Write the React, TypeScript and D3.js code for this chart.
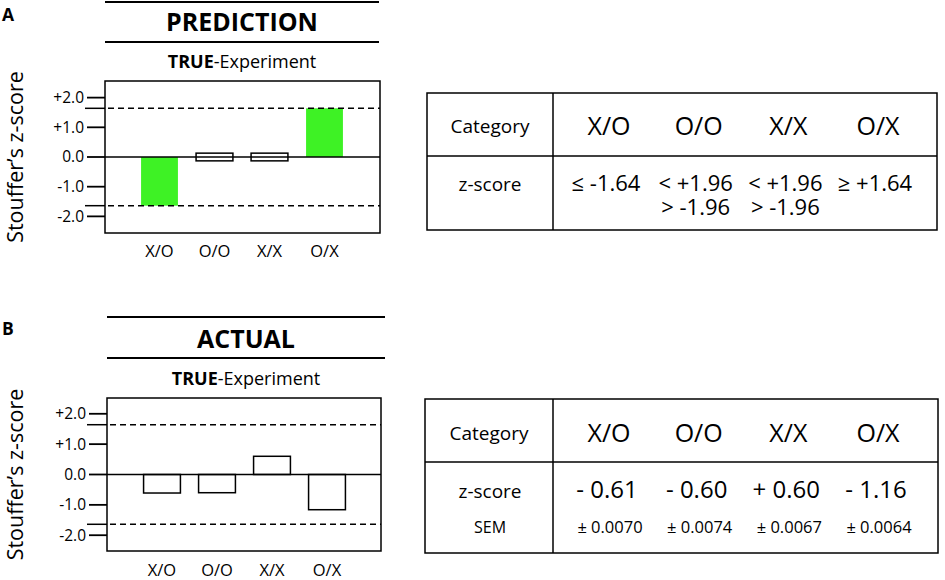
import React from "react";
import * as d3 from "d3";

const categories = ["X/O", "O/O", "X/X", "O/X"];
const predLow = [-1.64, -0.13, -0.13, 0];
const predHigh = [0, 0.13, 0.13, 1.64];
const predFilled = [true, false, false, true];
const actualZ = [-0.61, -0.6, 0.6, -1.16];
const actualSEM = [0.007, 0.0074, 0.0067, 0.0064];
const thresholds = [-1.64, 1.64];
const yTicks = [2, 1, 0, -1, -2];
const predictionRanges = [["≤ -1.64"], ["< +1.96", "> -1.96"], ["< +1.96", "> -1.96"], ["≥ +1.64"]];

const FONT = "'Open Sans', sans-serif";
const GREEN = "#3ef225";

const fmtTick = (v: number) => (v > 0 ? "+" : "") + v.toFixed(1);
const fmtZ = (v: number) => (v < 0 ? "- " : "+ ") + Math.abs(v).toFixed(2);
const fmtSEM = (v: number) => "± " + v.toFixed(4);

type PanelProps = {
  letter: string;
  title: string;
  top: number;
  ruleX: [number, number];
  box: { x0: number; x1: number; y0: number; y1: number };
  yDomain: [number, number];
  bandRange: [number, number];
  lows: number[];
  highs: number[];
  filled: boolean[];
  titleY: number;
  rule2Y: number;
  subY: number;
  labelY: number;
  letterY: number;
};

function Panel(p: PanelProps) {
  const { box } = p;
  const y = d3.scaleLinear().domain(p.yDomain).range([box.y1, box.y0]);
  const x = d3
    .scaleBand<string>()
    .domain(categories)
    .range(p.bandRange)
    .paddingInner(0.33)
    .paddingOuter(0.165);
  const midX = (p.ruleX[0] + p.ruleX[1]) / 2;
  const midY = (box.y0 + box.y1) / 2;
  return (
    <g>
      <text x={2} y={p.letterY} fontFamily={FONT} fontWeight={700} fontSize={17.5}>
        {p.letter}
      </text>
      <line x1={p.ruleX[0]} x2={p.ruleX[1]} y1={p.top} y2={p.top} stroke="#000" strokeWidth={2} />
      <text x={midX} y={p.titleY} textAnchor="middle" fontFamily={FONT} fontWeight={700} fontSize={25}>
        {p.title}
      </text>
      <line x1={p.ruleX[0]} x2={p.ruleX[1]} y1={p.rule2Y} y2={p.rule2Y} stroke="#000" strokeWidth={2} />
      <text x={midX} y={p.subY} textAnchor="middle" fontFamily={FONT} fontSize={18}>
        <tspan fontWeight={700}>TRUE</tspan>
        <tspan>-Experiment</tspan>
      </text>
      <text
        transform={`translate(23,${midY}) rotate(-90)`}
        textAnchor="middle"
        fontFamily={FONT}
        fontSize={21.5}
      >
        Stouffer’s z-score
      </text>
      {categories.map((c, i) => {
        const yt = y(p.highs[i]);
        const yb = y(p.lows[i]);
        return (
          <rect
            key={c}
            x={x(c)}
            y={yt}
            width={x.bandwidth()}
            height={yb - yt}
            fill={p.filled[i] ? GREEN : "#fff"}
            stroke={p.filled[i] ? "none" : "#000"}
            strokeWidth={1.5}
          />
        );
      })}
      <line x1={box.x0} x2={box.x1} y1={y(0)} y2={y(0)} stroke="#000" strokeWidth={1.5} />
      {thresholds.map((t) => (
        <g key={t}>
          <line x1={box.x0 + 3} x2={box.x1} y1={y(t)} y2={y(t)} stroke="#000" strokeWidth={1.5} strokeDasharray="6,4" />
          <line x1={box.x0 - 20} x2={box.x0} y1={y(t)} y2={y(t)} stroke="#000" strokeWidth={1.5} />
        </g>
      ))}
      {yTicks.map((t) => (
        <g key={t}>
          <line x1={box.x0 - 18} x2={box.x0} y1={y(t)} y2={y(t)} stroke="#000" strokeWidth={1.8} />
          <text x={box.x0 - 21} y={y(t)} dy="0.35em" textAnchor="end" fontFamily={FONT} fontSize={15.5}>
            {fmtTick(t)}
          </text>
        </g>
      ))}
      <rect x={box.x0} y={box.y0} width={box.x1 - box.x0} height={box.y1 - box.y0} fill="none" stroke="#000" strokeWidth={1.5} />
      {categories.map((c) => (
        <text key={c} x={(x(c) as number) + x.bandwidth() / 2} y={p.labelY} textAnchor="middle" fontFamily={FONT} fontSize={16.5}>
          {c}
        </text>
      ))}
    </g>
  );
}

type TableProps = {
  box: { x0: number; x1: number; y0: number; y1: number };
  colX: number;
  rowY: number;
  headerY: number;
  colRange: [number, number];
  children: (xs: (c: string) => number) => React.ReactNode;
};

function Table(t: TableProps) {
  const xs = d3.scalePoint<string>().domain(categories).range(t.colRange);
  const labelX = (t.box.x0 + t.colX) / 2;
  return (
    <g>
      <rect x={t.box.x0} y={t.box.y0} width={t.box.x1 - t.box.x0} height={t.box.y1 - t.box.y0} fill="none" stroke="#000" strokeWidth={1.5} />
      <line x1={t.colX} x2={t.colX} y1={t.box.y0} y2={t.box.y1} stroke="#000" strokeWidth={1.5} />
      <line x1={t.box.x0} x2={t.box.x1} y1={t.rowY} y2={t.rowY} stroke="#000" strokeWidth={1.5} />
      <text x={labelX} y={t.headerY} textAnchor="middle" fontFamily={FONT} fontSize={19}>
        Category
      </text>
      {categories.map((c) => (
        <text key={c} x={xs(c)} y={t.headerY + 2} textAnchor="middle" fontFamily={FONT} fontSize={25}>
          {c}
        </text>
      ))}
      {t.children((c) => xs(c) as number)}
    </g>
  );
}

export default function App() {
  return (
    <svg width={945} height={580} style={{ display: "block", position: "absolute", left: 0, top: 0 }}>
      <rect width={945} height={580} fill="#fff" />
      <Panel
        letter="A"
        title="PREDICTION"
        top={2}
        ruleX={[105, 379]}
        box={{ x0: 105, x1: 380, y0: 81, y1: 233 }}
        yDomain={[-2.56, 2.56]}
        bandRange={[132, 352]}
        lows={predLow}
        highs={predHigh}
        filled={predFilled}
        titleY={31}
        rule2Y={42}
        subY={68}
        labelY={257}
        letterY={21}
      />
      <Panel
        letter="B"
        title="ACTUAL"
        top={317}
        ruleX={[107, 385]}
        box={{ x0: 107, x1: 381, y0: 398, y1: 551 }}
        yDomain={[-2.52, 2.52]}
        bandRange={[134.5, 354.5]}
        lows={actualZ.map((v) => Math.min(0, v))}
        highs={actualZ.map((v) => Math.max(0, v))}
        filled={[false, false, false, false]}
        titleY={348}
        rule2Y={358}
        subY={385}
        labelY={576}
        letterY={335}
      />
      <Table box={{ x0: 427, x1: 937, y0: 93, y1: 230 }} colX={553} rowY={156} headerY={133} colRange={[609, 878]}>
        {(xs) => (
          <g>
            <text x={490} y={191} textAnchor="middle" fontFamily={FONT} fontSize={19}>
              z-score
            </text>
            {categories.map((c, i) => (
              <text key={c} y={191} textAnchor="middle" fontFamily={FONT} fontSize={22}>
                {predictionRanges[i].map((s, j) => (
                  <tspan key={j} x={xs(c) - 3} dy={j === 0 ? 0 : 24}>
                    {s}
                  </tspan>
                ))}
              </text>
            ))}
          </g>
        )}
      </Table>
      <Table box={{ x0: 425, x1: 938, y0: 399, y1: 553 }} colX={553} rowY={462} headerY={440} colRange={[609, 878]}>
        {(xs) => (
          <g>
            <text x={490} y={498} textAnchor="middle" fontFamily={FONT} fontSize={19}>
              z-score
            </text>
            <text x={490} y={533} textAnchor="middle" fontFamily={FONT} fontSize={16}>
              SEM
            </text>
            {categories.map((c, i) => (
              <text key={c} x={xs(c) - 2} y={498} textAnchor="middle" fontFamily={FONT} fontSize={24}>
                {fmtZ(actualZ[i])}
              </text>
            ))}
            {categories.map((c, i) => (
              <text key={c + "s"} x={xs(c) + 1} y={533} textAnchor="middle" fontFamily={FONT} fontSize={16.5}>
                {fmtSEM(actualSEM[i])}
              </text>
            ))}
          </g>
        )}
      </Table>
    </svg>
  );
}
